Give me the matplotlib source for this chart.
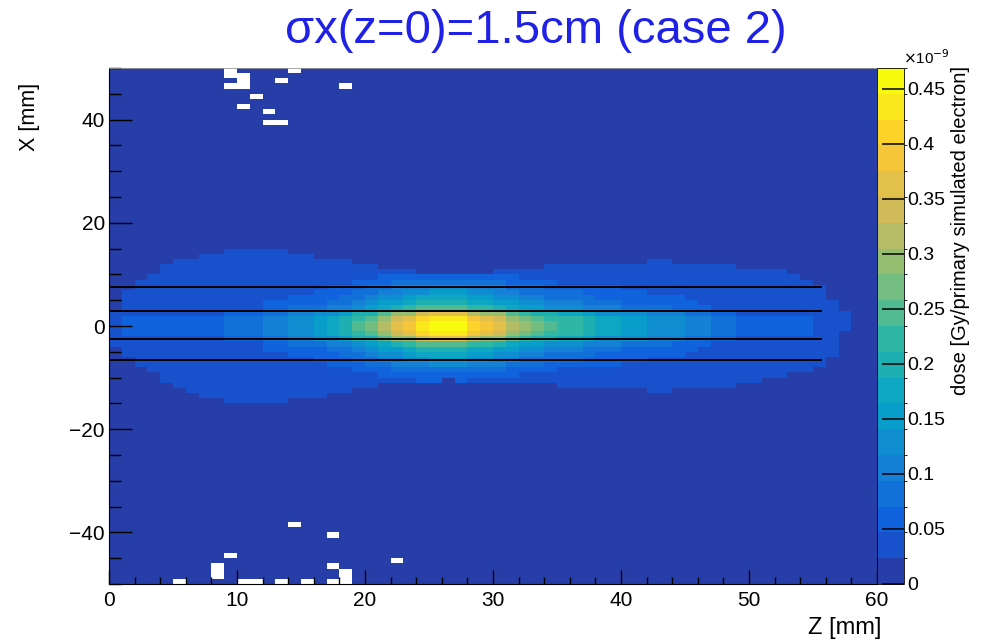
import matplotlib

matplotlib.use("Agg")
import matplotlib.pyplot as plt
import numpy as np
from matplotlib.colors import BoundaryNorm, LinearSegmentedColormap, ListedColormap
from matplotlib.ticker import MultipleLocator

plt.rcParams["font.family"] = ["Liberation Sans", "DejaVu Sans"]

# 1 mm x 1 mm bins, Z 0..60 mm, X -50..50 mm
z_edges = np.arange(0, 61)
x_edges = np.arange(-50, 51)

# dose on the beam axis (central X rows) per Z bin, units 1e-9 Gy/primary
axis_dose = [
    0.035, 0.052, 0.055, 0.056, 0.057, 0.057, 0.058, 0.058, 0.059, 0.082,
    0.082, 0.085, 0.106, 0.110, 0.129, 0.132, 0.152, 0.176, 0.199, 0.246,
    0.270, 0.317, 0.364, 0.387, 0.434, 0.457, 0.465, 0.457, 0.410, 0.387,
    0.364, 0.317, 0.293, 0.270, 0.246, 0.223, 0.223, 0.199, 0.176, 0.176,
    0.152, 0.152, 0.129, 0.129, 0.125, 0.106, 0.100, 0.082, 0.080, 0.059,
    0.059, 0.058, 0.056, 0.055, 0.052, 0.040, 0.038, 0.036, 0.012, 0.012,
]

# relative transverse fall-off, by row offset from the axis
profile = [1.0, 0.95, 0.78, 0.55, 0.45, 0.38, 0.32, 0.27, 0.20,
           0.15, 0.11, 0.09, 0.07, 0.06, 0.05]

# outer halo: highest / lowest X row (lower bin edge) above background
halo_top = [
    2, 6, 8, 9, 11, 12, 12, 13, 13, 14, 14, 14, 14, 14, 13, 13, 12, 12, 12, 11,
    11, 10, 10, 10, 9, 9, 9, 9, 9, 9, 10, 10, 10, 10, 11, 11, 11, 11, 11, 11,
    11, 11, 12, 12, 11, 11, 11, 11, 11, 10, 10, 10, 10, 9, 8, 7, 4, 2, -99, -99,
]
halo_bot = [
    -4, -6, -8, -9, -11, -12, -13, -14, -14, -15, -15, -15, -15, -15, -14, -14,
    -14, -13, -13, -12, -12, -11, -11, -11, -11, -11, -10, -11, -11, -11, -11,
    -11, -11, -11, -11, -12, -12, -12, -12, -12, -12, -12, -13, -13, -12, -12,
    -12, -12, -12, -11, -11, -10, -10, -9, -9, -8, -6, -1, 99, 99,
]
halo_dose = 0.035
floor_dose = 0.010

# bins with no deposited dose (Z bin index, X row lower edge)
empty_bins = [
    (9, 49), (9, 48), (10, 48), (10, 47), (10, 46), (9, 46), (14, 49),
    (13, 47), (18, 46), (11, 44), (10, 42), (12, 41), (12, 39), (13, 39),
    (14, -39), (17, -41), (9, -45), (22, -46), (8, -47), (8, -48), (8, -49),
    (17, -47), (18, -48), (18, -49), (18, -50), (17, -50), (13, -50),
    (15, -50), (11, -50), (10, -50), (5, -50),
]

# horizontal profile cut lines
cut_x = [7.5, 3.0, -2.5, -6.5]
cut_zmax = 55.7

zmax = 0.469
n_levels = 20
cbar_ticks = [0, 0.05, 0.1, 0.15, 0.2, 0.25, 0.3, 0.35, 0.4, 0.45]
cbar_labels = ["0", "0.05", "0.1", "0.15", "0.2", "0.25", "0.3", "0.35", "0.4", "0.45"]

# ROOT kBird palette
bird_stops = [0.0, 0.125, 0.25, 0.375, 0.5, 0.625, 0.75, 0.875, 1.0]
bird_r = [0.2082, 0.0592, 0.0780, 0.0232, 0.1802, 0.5301, 0.8186, 0.9956, 0.9764]
bird_g = [0.1664, 0.3599, 0.5041, 0.6419, 0.7178, 0.7492, 0.7328, 0.7862, 0.9832]
bird_b = [0.5293, 0.8684, 0.8385, 0.7914, 0.6425, 0.4662, 0.3499, 0.1968, 0.0539]


def build_dose():
    rows = x_edges[:-1]
    offset = np.where(rows >= 0, rows, -rows - 1)
    prof = np.array(profile)
    dose = np.full((len(rows), len(z_edges) - 1), floor_dose)
    for j in range(len(z_edges) - 1):
        inside = (rows >= halo_bot[j]) & (rows <= halo_top[j])
        core = np.where(offset < len(prof),
                        prof[np.minimum(offset, len(prof) - 1)] * axis_dose[j], 0)
        dose[:, j] = np.where(inside, np.maximum(core, halo_dose), floor_dose)
    for j, k in empty_bins:
        dose[k + 50, j] = 0.0
    return np.ma.masked_equal(dose, 0.0)


def bird_cmap():
    segs = {
        "red": [(s, v, v) for s, v in zip(bird_stops, bird_r)],
        "green": [(s, v, v) for s, v in zip(bird_stops, bird_g)],
        "blue": [(s, v, v) for s, v in zip(bird_stops, bird_b)],
    }
    full = LinearSegmentedColormap("bird", segs, N=255)
    cols = [full(min(1.0, (i + 0.99) / n_levels)) for i in range(n_levels)]
    cmap = ListedColormap(cols)
    cmap.set_bad("white")
    return cmap


fig = plt.figure(figsize=(9.86, 6.42), dpi=100)
ax = fig.add_axes([109 / 986, 1 - 584 / 642, 768 / 986, 516 / 642])
cax = fig.add_axes([877 / 986, 1 - 584 / 642, 27 / 986, 516 / 642])

levels = np.linspace(0, zmax, n_levels + 1)
norm = BoundaryNorm(levels, n_levels)
mesh = ax.pcolormesh(z_edges, x_edges, build_dose(), cmap=bird_cmap(), norm=norm)

ax.hlines(cut_x, 0, cut_zmax, colors="black", linewidth=1.4)

ax.set_xlim(0, 60)
ax.set_ylim(-50, 50)
ax.xaxis.set_major_locator(MultipleLocator(10))
ax.xaxis.set_minor_locator(MultipleLocator(2))
ax.yaxis.set_major_locator(MultipleLocator(20))
ax.yaxis.set_minor_locator(MultipleLocator(5))
ax.tick_params(axis="x", which="major", direction="in", length=10, width=1,
               labelsize=15, pad=5)
ax.tick_params(axis="x", which="minor", direction="in", length=5, width=1)
ax.tick_params(axis="y", which="major", direction="in", length=16.5, width=1,
               labelsize=15, pad=3)
ax.tick_params(axis="y", which="minor", direction="in", length=8.5, width=1)
for side in ["top", "right"]:
    ax.spines[side].set_color("#999999")
    ax.spines[side].set_linewidth(0.6)

cbar = fig.colorbar(mesh, cax=cax, ticks=cbar_ticks)
cbar.ax.set_yticklabels(cbar_labels)
cbar.ax.tick_params(direction="in", length=16, width=1.1, labelsize=14, pad=2)
cbar.outline.set_linewidth(0.6)

fig.text(903 / 986, 1 - 58 / 642, r"$\times$10$^{-9}$", fontsize=11,
         ha="left", va="center")
fig.text(960 / 986, 1 - 66 / 642, "dose [Gy/primary simulated electron]",
         rotation=90, fontsize=14.5, ha="center", va="top")
fig.text(881 / 986, 1 - 628 / 642, "Z [mm]", fontsize=17, ha="right",
         va="center")
fig.text(30 / 986, 1 - 83 / 642, "X [mm]", rotation=90, fontsize=15.5,
         ha="center", va="top")
fig.text(536 / 986, 1 - 31 / 642, "σx(z=0)=1.5cm (case 2)", fontsize=34,
         color="#1f22e6", ha="center", va="center")

fig.savefig("out.png", dpi=100)
